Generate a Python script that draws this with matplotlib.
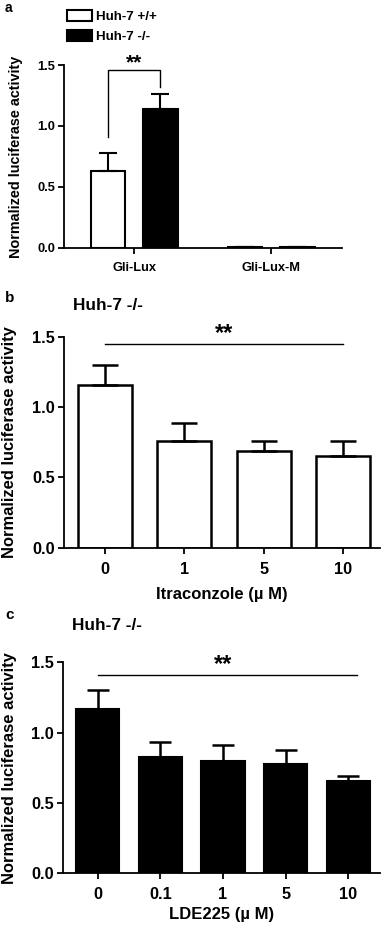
import matplotlib
matplotlib.use("Agg")
import matplotlib.pyplot as plt
import numpy as np

plt.rcParams['font.family'] = ['Liberation Sans', 'DejaVu Sans']
plt.rcParams['font.weight'] = 'bold'

# ---- data ----
a_categories = ["Gli-Lux", "Gli-Lux-M"]
a_series = ["Huh-7 +/+", "Huh-7 -/-"]
a_wt = [0.63, 0.005]
a_wt_err = [0.15, 0.0]
a_ko = [1.14, 0.005]
a_ko_err = [0.12, 0.0]

b_categories = ["0", "1", "5", "10"]
b_values = [1.16, 0.76, 0.69, 0.655]
b_err = [0.14, 0.13, 0.07, 0.105]

c_categories = ["0", "0.1", "1", "5", "10"]
c_values = [1.165, 0.83, 0.80, 0.78, 0.656]
c_err = [0.135, 0.10, 0.11, 0.095, 0.035]

yticks = [0.0, 0.5, 1.0, 1.5]
ylabel = "Normalized luciferase activity"

W, H = 385, 931
fig = plt.figure(figsize=(W/100, H/100), dpi=100)

def ax_px(left, top, right, bottom):
    return fig.add_axes([left/W, 1-bottom/H, (right-left)/W, (bottom-top)/H])

def style(ax, fs, xpad, ypad):
    for s in ['top', 'right']:
        ax.spines[s].set_visible(False)
    for s in ['left', 'bottom']:
        ax.spines[s].set_linewidth(1.3)
    ax.set_ylim(0, 1.5)
    ax.set_yticks(yticks)
    ax.set_yticklabels([f"{t:.1f}" for t in yticks])
    ax.tick_params(axis='both', direction='out', length=4, width=1.3, labelsize=fs)
    ax.tick_params(axis='x', pad=xpad)
    ax.tick_params(axis='y', pad=ypad)
    for lab in ax.get_xticklabels() + ax.get_yticklabels():
        lab.set_fontweight('bold')

# ---- panel a ----
axa = ax_px(64, 65, 342, 248)
x = np.arange(len(a_categories))
off = 0.19
bw = 0.255
axa.bar(x - off, a_wt, bw, color='white', edgecolor='black', linewidth=1.5,
        yerr=[np.zeros(len(a_wt)), a_wt_err], capsize=6.5,
        error_kw=dict(elinewidth=1.5, capthick=1.5), label=a_series[0])
axa.bar(x + off, a_ko, bw, color='black', edgecolor='black', linewidth=1.5,
        yerr=[np.zeros(len(a_ko)), a_ko_err], capsize=6.5,
        error_kw=dict(elinewidth=1.5, capthick=1.5), label=a_series[1])
axa.set_xlim(-0.511, 1.518)
axa.set_xticks(x)
axa.set_xticklabels(a_categories)
style(axa, 9.3, 6, 2.5)
axa.set_ylabel(ylabel, fontsize=10.4, fontweight='bold')
axa.yaxis.set_label_coords(-0.147, 0.5)
# bracket
x1, x2 = x[0] - off, x[0] + off
axa.plot([x1, x1, x2, x2], [0.91, 1.455, 1.455, 1.32], color='black', lw=1.0)
axa.text((x1 + x2) / 2, 1.44, "**", ha='center', va='bottom', fontsize=15, fontweight='bold')
leg = axa.legend(loc='upper left', bbox_to_anchor=(67/W, 1-10/H),
                 bbox_transform=fig.transFigure, frameon=False,
                 fontsize=9.6, handlelength=1.85, handleheight=0.9, handletextpad=0.35,
                 labelspacing=0.5, borderaxespad=0, borderpad=0)
for t in leg.get_texts():
    t.set_fontweight('bold')
fig.text(5/W, 1-8/H, "a", fontsize=10, fontweight='bold', va='center', ha='left')

# ---- panel b ----
axb = ax_px(64, 336.7, 380, 547.7)
xb = np.arange(len(b_categories))
axb.bar(xb, b_values, 0.68, color='white', edgecolor='black', linewidth=1.8,
        yerr=[np.zeros(len(b_err)), b_err], capsize=9.5,
        error_kw=dict(elinewidth=1.8, capthick=1.8))
axb.set_xlim(-0.52, 3.47)
axb.set_xticks(xb)
axb.set_xticklabels(b_categories)
style(axb, 11.8, 6, 2.5)
axb.set_ylabel(ylabel, fontsize=11.9, fontweight='bold')
axb.yaxis.set_label_coords(-0.149, 0.5)
axb.set_xlabel("Itraconzole (µ M)", fontsize=12, fontweight='bold')
axb.xaxis.set_label_coords(0.5, -0.186)
axb.plot([xb[0], xb[-1]], [1.448, 1.448], color='black', lw=1.0)
axb.text((xb[0] + xb[-1]) / 2, 1.44, "**", ha='center', va='bottom', fontsize=17, fontweight='bold')
fig.text(73/W, 1-306/H, "Huh-7 -/-", fontsize=12.4, fontweight='bold', va='center', ha='left')
fig.text(5/W, 1-298/H, "b", fontsize=11, fontweight='bold', va='center', ha='left')

# ---- panel c ----
axc = ax_px(63, 662.3, 380, 873.3)
xc = np.arange(len(c_categories))
axc.bar(xc, c_values, 0.69, color='black', edgecolor='black', linewidth=1.5,
        yerr=[np.zeros(len(c_err)), c_err], capsize=8,
        error_kw=dict(elinewidth=1.8, capthick=1.8))
axc.set_xlim(-0.553, 4.505)
axc.set_xticks(xc)
axc.set_xticklabels(c_categories)
style(axc, 11.8, 6, 2.5)
axc.set_ylabel(ylabel, fontsize=11.9, fontweight='bold')
axc.yaxis.set_label_coords(-0.145, 0.5)
axc.set_xlabel("LDE225 (µ M)", fontsize=12, fontweight='bold')
axc.xaxis.set_label_coords(0.5, -0.158)
axc.plot([xc[0], xc[-1] + 0.14], [1.41, 1.41], color='black', lw=1.0)
axc.text((xc[0] + xc[-1]) / 2, 1.40, "**", ha='center', va='bottom', fontsize=17, fontweight='bold')
fig.text(72/W, 1-625/H, "Huh-7 -/-", fontsize=12.4, fontweight='bold', va='center', ha='left')
fig.text(5/W, 1-615/H, "c", fontsize=11, fontweight='bold', va='center', ha='left')

fig.savefig("out.png", dpi=100, facecolor='white')
